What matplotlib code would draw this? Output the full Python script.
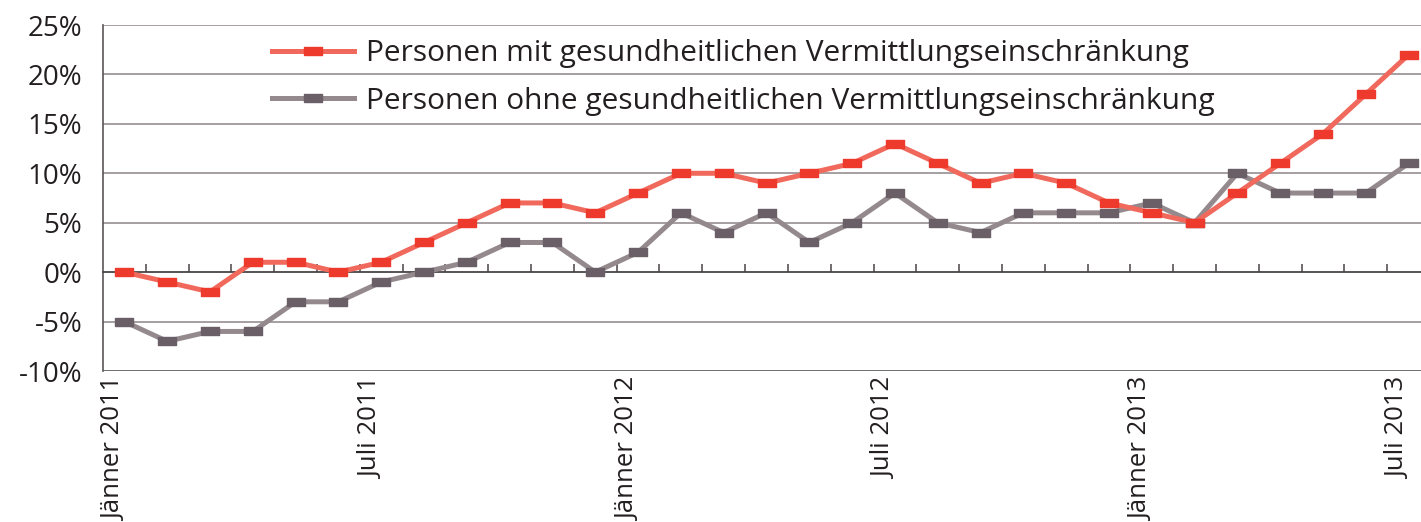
#!/usr/bin/env python3
# Personen mit / ohne gesundheitliche Vermittlungseinschränkung, Veränderung zum Vorjahr
import matplotlib
matplotlib.use("Agg")
import matplotlib.pyplot as plt
import matplotlib.transforms as mtransforms

plt.rcParams['font.family'] = ['Open Sans', 'DejaVu Sans']

# Monate Jänner 2011 .. Juli 2013 (31 Werte)
months = list(range(31))
mit_einschr = [0, -1, -2, 1, 1, 0, 1, 3, 5, 7, 7, 6, 8, 10, 10, 9, 10, 11, 13, 11,
               9, 10, 9, 7, 6, 5, 8, 11, 14, 18, 22]
ohne_einschr = [-5, -7, -6, -6, -3, -3, -1, 0, 1, 3, 3, 0, 2, 6, 4, 6, 3, 5, 8, 5,
                4, 6, 6, 6, 7, 5, 10, 8, 8, 8, 11]
label_pos = [0, 6, 12, 18, 24, 30]
label_txt = ['Jänner 2011', 'Juli 2011', 'Jänner 2012', 'Juli 2012', 'Jänner 2013', 'Juli 2013']
y_ticks = [-10, -5, 0, 5, 10, 15, 20, 25]

RED_LINE, RED_MARK = '#f0695c', '#ee3a2c'
GRAY_LINE, GRAY_MARK = '#948a8e', '#6b5f67'
TXT = '#231f20'

# flaches Rechteck als Marker
rect = [(-1, -0.42), (1, -0.42), (1, 0.42), (-1, 0.42), (-1, -0.42)]

fig = plt.figure(figsize=(14.21, 5.22), dpi=100)
W, H = 1421, 522
ax = fig.add_axes([103 / W, 1 - 371 / H, 1327 / W, 346 / H])

ax.set_xlim(-0.5, 30.5)
ax.set_ylim(-10, 25)

for y in y_ticks:
    if y in (0, -10):
        continue
    ax.axhline(y, color='#8d8588', lw=1.1, zorder=1)
ax.axhline(-10, color='#5a5456', lw=1.2, zorder=2)

l_ohne, = ax.plot(months, ohne_einschr, color=GRAY_LINE, lw=3.6, marker=rect, ms=13,
                  mfc=GRAY_MARK, mec=GRAY_MARK, zorder=3, solid_joinstyle='round')
l_mit, = ax.plot(months, mit_einschr, color=RED_LINE, lw=3.6, marker=rect, ms=13,
                 mfc=RED_MARK, mec=RED_MARK, zorder=4, solid_joinstyle='round')

# Achsen
for s in ('top', 'right'):
    ax.spines[s].set_visible(False)
ax.spines['left'].set_color('#5a5456')
ax.spines['left'].set_linewidth(1.2)
ax.spines['bottom'].set_position(('data', 0))
ax.spines['bottom'].set_color('#4a4446')
ax.spines['bottom'].set_linewidth(1.3)

ax.set_xticks([i + 0.5 for i in range(30)])
ax.set_xticklabels([])
ax.tick_params(axis='x', direction='in', length=6, width=1.1, color='#4a4446')

ax.set_yticks(y_ticks)
ax.set_yticklabels([f'{v}%' for v in y_ticks], fontsize=20, color=TXT)
ax.tick_params(axis='y', length=0, pad=15)

# Monatsbeschriftung unterhalb der Grafik
off = mtransforms.ScaledTranslation(-10 / 100, 0, fig.dpi_scale_trans)
trans = mtransforms.blended_transform_factory(ax.transData, ax.transAxes) + off
for p, t in zip(label_pos, label_txt):
    ax.text(p, -0.02, t, transform=trans, rotation=90, ha='center', va='top',
            fontsize=18.5, color=TXT, clip_on=False)

ax.legend([l_mit, l_ohne],
          ['Personen mit gesundheitlichen Vermittlungseinschränkung',
           'Personen ohne gesundheitlichen Vermittlungseinschränkung'],
          loc='upper left', bbox_to_anchor=(0.118, 0.993), frameon=False,
          fontsize=21.5, labelcolor=TXT, handlelength=2.75, handletextpad=0.42,
          labelspacing=0.62, borderaxespad=0.0)

fig.savefig('out.png', dpi=100)
